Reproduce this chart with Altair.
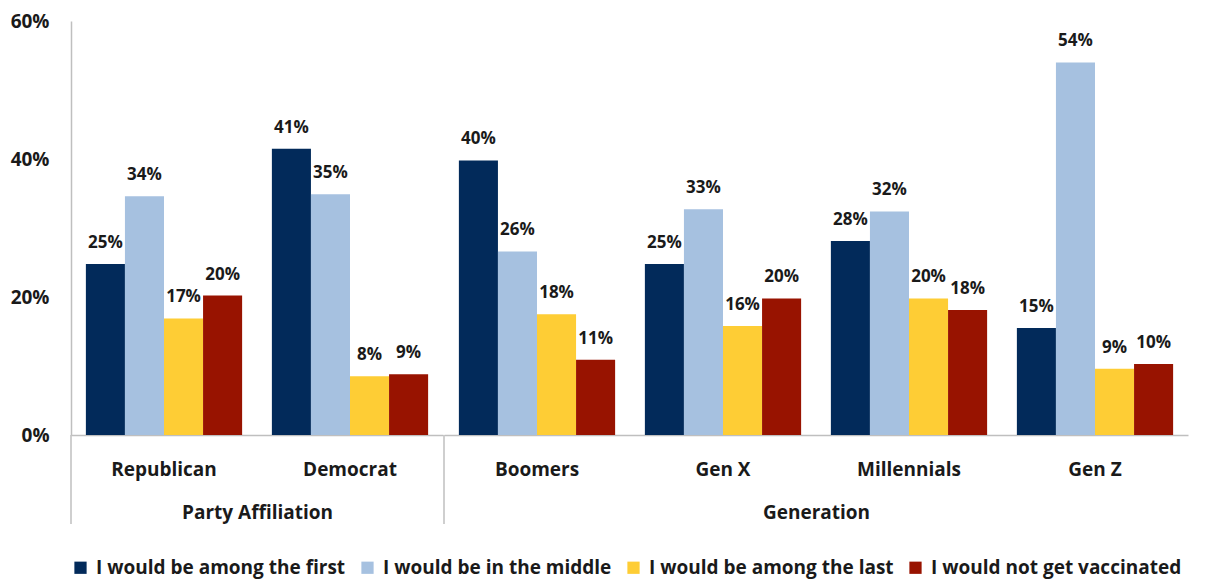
import altair as alt
import pandas as pd

categories = ["Republican", "Democrat", "Boomers", "Gen X", "Millennials", "Gen Z"]
groups = ["Party Affiliation", "Party Affiliation", "Generation", "Generation", "Generation", "Generation"]
series = ["I would be among the first", "I would be in the middle",
          "I would be among the last", "I would not get vaccinated"]
colors = ["#022a5a", "#a6c1e0", "#fecd35", "#981300"]

first_vals = [24.8, 41.5, 39.8, 24.8, 28.1, 15.5]
middle_vals = [34.6, 34.9, 26.6, 32.7, 32.4, 54.0]
last_vals = [16.9, 8.5, 17.5, 15.8, 19.8, 9.6]
novax_vals = [20.2, 8.8, 10.9, 19.8, 18.1, 10.3]

first_labels = ["25%", "41%", "40%", "25%", "28%", "15%"]
middle_labels = ["34%", "35%", "26%", "33%", "32%", "54%"]
last_labels = ["17%", "8%", "18%", "16%", "20%", "9%"]
novax_labels = ["20%", "9%", "11%", "20%", "18%", "10%"]

y_ticks = [0, 20, 40, 60]

rows = []
for s, vals, labs in zip(series,
                         [first_vals, middle_vals, last_vals, novax_vals],
                         [first_labels, middle_labels, last_labels, novax_labels]):
    for c, g, v, l in zip(categories, groups, vals, labs):
        rows.append(dict(category=c, group=g, series=s, value=v, label=l))
df = pd.DataFrame(rows)

STEP = 186
H = 414
FONT = "Open Sans"
TXT = "#1a1a1a"
GRID = "#bfbfbf"
FS = 19


def panel(group_name, show_y):
    sub = df[df.group == group_name]
    cats = [c for c, g in zip(categories, groups) if g == group_name]
    x = alt.X("category:N", sort=cats, title=group_name,
              scale=alt.Scale(paddingInner=0.16, paddingOuter=0.08),
              axis=alt.Axis(labelAngle=0, ticks=False, domainColor=GRID, domainWidth=1.5,
                            labelPadding=25, titlePadding=24,
                            labelFont=FONT, labelFontSize=FS, labelFontWeight="bold", labelColor=TXT,
                            titleFont=FONT, titleFontSize=FS, titleFontWeight="bold", titleColor=TXT))
    xo = alt.XOffset("series:N", sort=series)
    if show_y:
        yaxis = alt.Axis(values=y_ticks, labelExpr="datum.value + '%'", title=None, grid=False,
                         ticks=False, domainColor=GRID, domainWidth=1.5, labelPadding=22,
                         labelFont=FONT, labelFontSize=FS, labelFontWeight="bold", labelColor=TXT)
    else:
        yaxis = None
    y = alt.Y("value:Q", scale=alt.Scale(domain=[0, 60]), axis=yaxis)
    color = alt.Color("series:N", sort=series,
                      scale=alt.Scale(domain=series, range=colors),
                      legend=alt.Legend(orient="bottom", direction="horizontal", title=None,
                                        symbolType="square", symbolSize=150, symbolStrokeWidth=0,
                                        labelFont=FONT, labelFontSize=FS, labelFontWeight="bold",
                                        labelColor=TXT, labelLimit=400, columnPadding=12,
                                        labelOffset=6, offset=33))
    base = alt.Chart(sub)
    bars = base.mark_bar().encode(x=x, xOffset=xo, y=y, color=color)
    text = base.mark_text(dy=-21, font=FONT, fontSize=17, fontWeight="bold", color=TXT).encode(
        x=x, xOffset=xo, y=y, text="label:N")
    sep = alt.Chart(pd.DataFrame({"k": [0]})).mark_rule(color=GRID, strokeWidth=1.5).encode(
        x=alt.value(0), y=alt.value(H), y2=alt.value(H + 89))
    return alt.layer(bars, text, sep).properties(width=STEP * len(cats), height=H)


chart = alt.hconcat(panel("Party Affiliation", True), panel("Generation", False), spacing=0).configure(
    padding={"left": 2, "right": 2, "top": 4, "bottom": 3}
).configure_view(stroke=None)

chart.save("out.html", embed_options={"renderer": "svg", "actions": False})
